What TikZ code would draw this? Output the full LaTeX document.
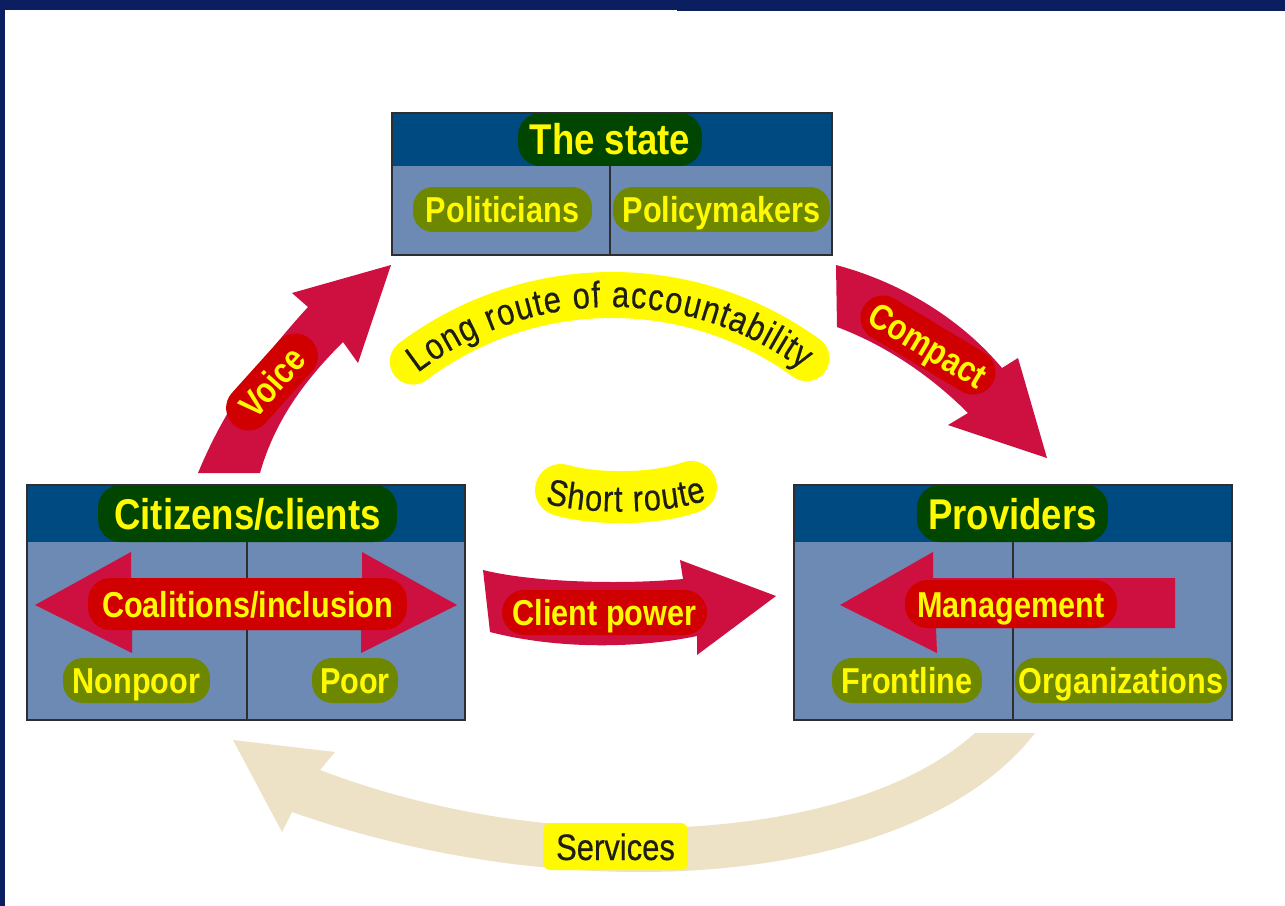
\documentclass[tikz,border=0pt]{standalone}
\usepackage{fontspec}
\newfontfamily\condb[FakeStretch=0.85]{Liberation Sans}
\newfontfamily\condr[FakeStretch=0.84,FakeBold=0.4]{Liberation Sans}
\usetikzlibrary{decorations.text}
\definecolor{navy}{RGB}{11,31,96}
\definecolor{hdrblue}{RGB}{0,74,130}
\definecolor{bodyblue}{RGB}{108,138,180}
\definecolor{boxgray}{RGB}{45,45,50}
\definecolor{dkgreen}{RGB}{0,70,0}
\definecolor{olivegreen}{RGB}{110,135,0}
\definecolor{yel}{RGB}{255,250,0}
\definecolor{crim}{RGB}{205,16,64}
\definecolor{pillred}{RGB}{208,0,0}
\definecolor{beige}{RGB}{237,226,198}
\definecolor{ink}{RGB}{30,30,20}
\begin{document}
\begin{tikzpicture}[x=0.02cm,y=0.02cm,
  boxline/.style={draw=boxgray, line width=1.3pt},
  divline/.style={draw=boxgray, line width=1pt},
  pillT/.style={fill=dkgreen, text=yel, font=\condb\bfseries\fontsize{24.5}{26}\selectfont,
    rounded corners=0.45cm, inner sep=0pt, text height=0.62cm, text depth=0pt},
  pillS/.style={fill=olivegreen, text=yel, font=\condb\bfseries\fontsize{20.5}{22}\selectfont,
    rounded corners=0.4cm, inner sep=0pt, minimum height=0.9cm, text height=0.52cm, text depth=0pt},
  pillR/.style={fill=pillred, text=yel, font=\condb\bfseries\fontsize{20.5}{22}\selectfont,
    rounded corners=0.45cm, inner sep=0pt, text height=0.52cm, text depth=0pt},
  ylab/.style={fill=yel, text=ink, font=\condr\fontsize{21}{23}\selectfont,
    rounded corners=0.15cm, inner sep=0pt, text height=0.54cm, text depth=0pt},
  arrowfill/.style={fill=crim},
]
\useasboundingbox (0,0) rectangle (1285,-906);
\fill[white] (0,0) rectangle (1285,-906);
% frame bands
\fill[navy] (0,0) rectangle (677,-9.5);
\fill[navy] (677,0) rectangle (1285,-10.5);
\fill[navy] (0,0) rectangle (4.5,-906);

% ---------------- The state box
\fill[bodyblue] (392,-113) rectangle (832,-255);
\fill[hdrblue] (392,-113) rectangle (832,-166);
\draw[divline] (610,-166) -- (610,-255);
\node[pillT, minimum width=3.68cm, minimum height=1.06cm] (stateT) at (610,-139.5) {The state};
\node[pillS, minimum width=3.58cm] (politicians) at (502.5,-209.5) {Politicians};
\node[pillS, minimum width=4.34cm] (policymakers) at (721.5,-209.5) {Policymakers};
\draw[boxline] (392,-113) rectangle (832,-255);

% ---------------- Citizens box
\fill[bodyblue] (27,-485) rectangle (465,-720);
\fill[hdrblue] (27,-485) rectangle (465,-542);
\draw[divline] (247,-542) -- (247,-720);
\fill[arrowfill] (35,-605) -- (131,-552) -- (131,-578) -- (362,-578) -- (362,-552) -- (457,-605)
  -- (361,-653) -- (361,-630) -- (132,-630) -- (132,-653) -- cycle;
\node[pillR, minimum width=6.38cm, minimum height=1.04cm] (coalitions) at (247.5,-604) {Coalitions/inclusion};
\node[pillT, minimum width=5.98cm, minimum height=1.14cm] (citizensT) at (247.5,-513.5) {Citizens/clients};
\node[pillS, minimum width=2.94cm] (nonpoor) at (136.5,-680.5) {Nonpoor};
\node[pillS, minimum width=1.72cm] (poor) at (355,-680.5) {Poor};
\draw[boxline] (27,-485) rectangle (465,-720);

% ---------------- Providers box
\fill[bodyblue] (794,-485) rectangle (1232,-720);
\fill[hdrblue] (794,-485) rectangle (1232,-542);
\draw[divline] (1013,-542) -- (1013,-720);
\fill[arrowfill] (840,-605) -- (933,-552) -- (933,-578) -- (1175,-578) -- (1175,-628)
  -- (936,-628) -- (937,-653) -- cycle;
\node[pillR, minimum width=4.24cm, minimum height=0.96cm] (management) at (1011,-604) {Management};
\node[pillT, minimum width=3.82cm, minimum height=1.14cm] (providersT) at (1012.5,-513.5) {Providers};
\node[pillS, minimum width=3.0cm] (frontline) at (907,-680.5) {Frontline};
\node[pillS, minimum width=4.24cm] (organizations) at (1121,-680.5) {Organizations};
\draw[boxline] (794,-485) rectangle (1232,-720);

% ---------------- Voice arrow
\fill[arrowfill] (198,-473) .. controls (222,-415) and (255,-365) .. (308,-307) -- (292,-293)
  -- (391,-265) -- (358,-363) -- (343,-342) .. controls (305,-380) and (275,-420) .. (260,-473) -- cycle;
\node[pillR, minimum width=2.3cm, minimum height=0.9cm, rotate=48] (voice) at (272,-382) {Voice};

% ---------------- Compact arrow
\fill[arrowfill] (836,-265) .. controls (900,-282) and (960,-318) .. (1002,-368) -- (1018,-358)
  -- (1047,-458) -- (948,-425) -- (968,-413) .. controls (930,-375) and (885,-345) .. (837,-327) -- cycle;
\node[pillR, minimum width=3.0cm, minimum height=0.9cm, rotate=-31] (compact) at (928,-345) {Compact};

% ---------------- Client power arrow
\fill[arrowfill] (483,-570) .. controls (530,-582) and (620,-585) .. (683,-579) -- (680,-560)
  -- (776,-596) -- (697,-655) -- (697,-636) .. controls (640,-648) and (560,-650) .. (490,-632) -- cycle;
\node[pillR, minimum width=4.1cm, minimum height=0.9cm] (clientpower) at (604.5,-612.5) {Client power};

% ---------------- Services arrow
\fill[beige] (1035,-733) .. controls (960,-830) and (800,-872) .. (640,-872)
  .. controls (520,-872) and (400,-850) .. (292,-812) -- (282,-832) -- (233,-740) -- (335,-752)
  -- (320,-770) .. controls (420,-808) and (530,-828) .. (640,-828)
  .. controls (770,-828) and (900,-800) .. (975,-733) -- cycle;
\node[ylab, minimum width=2.9cm, minimum height=0.94cm] (services) at (615.5,-846.5) {Services};

% ---------------- Long route of accountability
\draw[yel, line width=0.92cm, line cap=round] ([shift={(127:331)}]612,-626) arc[start angle=127, end angle=54, radius=331];
\path[decorate, decoration={text along path,
  text={|\condr\fontsize{21}{23}\selectfont\color{ink}|Long route of accountability},
  text align={fit to path}}]
  ([shift={(127.5:319)}]612,-626) arc[start angle=127.5, end angle=53.5, radius=319];

% ---------------- Short route
\draw[yel, line width=1.04cm, line cap=round] (561,-490) .. controls (595,-500) and (655,-500) .. (691,-487);
\path[decorate, decoration={text along path,
  text={|\condr\fontsize{21}{23}\selectfont\color{ink}|Short route},
  text align={fit to path}}]
  (545,-503) .. controls (585,-515) and (665,-515) .. (707,-500);
\end{tikzpicture}
\end{document}
